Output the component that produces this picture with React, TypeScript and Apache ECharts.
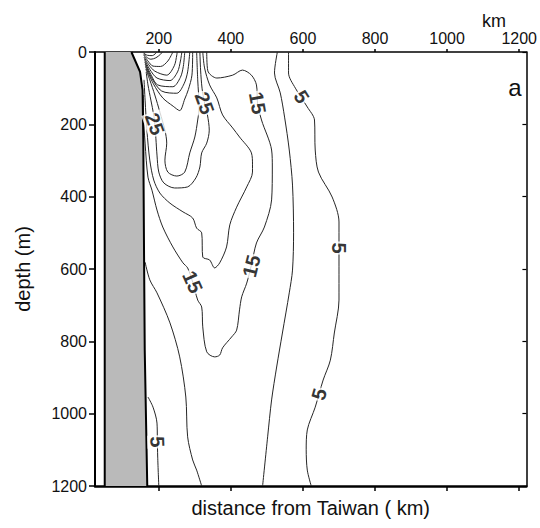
import React, { useEffect, useRef } from "react";
import * as echarts from "echarts";

const FONT = "'Liberation Sans', Arial, Helvetica, sans-serif";

// axes (distance in km, depth in m)
const xMin = 23;
const xMax = 1220;
const xTickValues = [200, 400, 600, 800, 1000, 1200];
const yTickValues = [0, 200, 400, 600, 800, 1000, 1200];

// shaded coastal slope (km, m)
const shelfLeftKm = 50;
const shelfEdge = [[124, 0], [148, 55], [155, 105], [157, 243], [159, 547], [161, 824], [168, 1200]];

// contour lines, [distance km, depth m]
const c5Right = [[560, 0], [560, 58], [579, 100], [612, 152], [632, 188], [634, 271], [643, 332], [681, 401], [700, 470], [700, 594], [700, 686], [687, 777], [676, 852], [656, 907], [634, 982], [612, 1045], [609, 1100], [612, 1156], [623, 1200]];
const c5Left = [[170, 954], [184, 982], [195, 1026], [196, 1070], [197, 1120], [200, 1200]];
const c10Right = [[529, 0], [521, 58], [537, 113], [549, 180], [562, 271], [571, 368], [574, 500], [571, 603], [562, 666], [543, 777], [527, 871], [513, 962], [502, 1064], [488, 1200]];
const c10Left = [[162, 581], [175, 630], [195, 666], [231, 749], [258, 843], [275, 954], [280, 1064], [294, 1128], [305, 1156], [319, 1200]];
const c15 = [[333, 0], [336, 52], [361, 72], [405, 64], [432, 50], [457, 64], [471, 91], [474, 141], [485, 188], [513, 271], [515, 318], [513, 409], [493, 484], [471, 528], [457, 589], [444, 639], [430, 677], [424, 713], [416, 769], [402, 788], [377, 818], [369, 838], [355, 843], [333, 829], [322, 760], [319, 705], [308, 686], [294, 636], [280, 597], [267, 583], [239, 539], [211, 484], [195, 437], [181, 382], [170, 346], [162, 252], [157, 160], [157, 119]];
const c20 = [[159, 77], [162, 133], [167, 216], [175, 299], [186, 354], [203, 390], [231, 418], [267, 442], [294, 459], [305, 487], [319, 500], [322, 567], [341, 575], [355, 597], [369, 583], [388, 539], [397, 478], [416, 429], [444, 373], [460, 332], [460, 312], [457, 279], [424, 235], [405, 210], [377, 174], [361, 127], [341, 91], [327, 44], [322, 0]];
const c25 = [[165, 55], [170, 91], [178, 133], [186, 174], [189, 199], [192, 240], [195, 285], [200, 332], [214, 362], [244, 376], [280, 373], [303, 348], [314, 318], [319, 279], [333, 252], [340, 216], [335, 174], [327, 141], [320, 100], [316, 50], [314, 0]];
const c30 = [[164, 47], [175, 77], [189, 119], [203, 166], [217, 216], [222, 252], [217, 299], [225, 332], [250, 343], [272, 332], [286, 279], [300, 235], [308, 188], [312, 155], [308, 77], [305, 0]];
const c35 = [[163, 40], [185, 88], [211, 127], [240, 150], [258, 162], [272, 130], [282, 104], [292, 64], [294, 0]];
const c40 = [[162, 33], [182, 75], [208, 108], [250, 114], [270, 88], [280, 55], [286, 0]];
const c45 = [[161, 27], [178, 62], [197, 91], [239, 96], [260, 70], [268, 40], [272, 0]];
const c50 = [[160, 20], [175, 48], [195, 72], [231, 79], [252, 55], [260, 25], [264, 0]];
const c55 = [[159, 14], [172, 35], [189, 53], [222, 64], [243, 38], [250, 8], [251, 0]];
const c60 = [[158, 8], [170, 25], [184, 39], [205, 40], [225, 25], [239, 0]];
const c65 = [[158, 5], [166, 14], [178, 20], [192, 16], [205, 6], [210, 0]];
const c70 = [[158, 3], [168, 9], [182, 10], [195, 0]];

const contourLines = [c5Right, c5Left, c10Right, c10Left, c15, c20, c25, c30, c35, c40, c45, c50, c55, c60, c65, c70];

// contour labels: [km, m, text, rotation]
const contourLabels: [number, number, string, number][] = [
  [327, 141, "25", -70],
  [189, 199, "25", -70],
  [474, 141, "15", -80],
  [457, 592, "15", 76],
  [294, 636, "15", -66],
  [596, 124, "5", -58],
  [700, 542, "5", -90],
  [645, 946, "5", 74],
  [196, 1078, "5", -88],
];

const axisBase = {
  type: "value" as const,
  splitLine: { show: false },
};

const plainNumber = (v: number) => String(v);

function buildOption() {
  const lineSeries = contourLines.map((pts) => ({
    type: "line",
    data: pts,
    smooth: 0.3,
    symbol: "none",
    silent: true,
    z: 3,
    lineStyle: { color: "#262626", width: 1 },
  }));

  return {
    animation: false,
    backgroundColor: "#ffffff",
    grid: { left: 95, right: 12, top: 52, bottom: 42, containLabel: false },
    xAxis: [
      {
        ...axisBase,
        min: xMin,
        max: xMax,
        position: "bottom",
        axisLine: { show: true, onZero: false, lineStyle: { color: "#000", width: 2.5 } },
        axisTick: { show: true, customValues: xTickValues, length: 5, inside: false, lineStyle: { color: "#000", width: 1.5 } },
        axisLabel: { show: false },
        name: "distance from Taiwan ( km)",
        nameLocation: "middle",
        nameGap: 12,
        nameTextStyle: { fontFamily: FONT, fontSize: 20, color: "#111", verticalAlign: "top" },
      },
      {
        ...axisBase,
        min: xMin,
        max: xMax,
        position: "top",
        axisLine: { show: true, onZero: false, lineStyle: { color: "#000", width: 1.5 } },
        axisTick: { show: true, customValues: xTickValues, length: 3, inside: false, lineStyle: { color: "#000", width: 1.5 } },
        axisLabel: { show: true, customValues: xTickValues, margin: 6, fontFamily: FONT, fontSize: 16, color: "#111", formatter: plainNumber },
      },
    ],
    yAxis: [
      {
        ...axisBase,
        min: 0,
        max: 1200,
        interval: 200,
        inverse: true,
        position: "left",
        axisLine: { show: true, onZero: false, lineStyle: { color: "#000", width: 2 } },
        axisTick: { show: true, customValues: yTickValues, length: 6, inside: false, lineStyle: { color: "#000", width: 1.5 } },
        axisLabel: { show: true, customValues: yTickValues, margin: 8, fontFamily: FONT, fontSize: 16, color: "#111", formatter: plainNumber },
        name: "depth (m)",
        nameLocation: "middle",
        nameGap: 62,
        nameRotate: 90,
        nameTextStyle: { fontFamily: FONT, fontSize: 20, color: "#111" },
      },
      {
        ...axisBase,
        min: 0,
        max: 1200,
        interval: 200,
        inverse: true,
        position: "right",
        axisLine: { show: true, onZero: false, lineStyle: { color: "#000", width: 1.5 } },
        axisTick: { show: true, length: 4, inside: true, lineStyle: { color: "#000", width: 1.2 } },
        axisLabel: { show: false },
      },
    ],
    graphic: [
      { type: "text", x: 494, y: 21, style: { text: "km", font: `18px ${FONT}`, fill: "#111", align: "center", verticalAlign: "middle" } },
      { type: "text", x: 515, y: 87, style: { text: "a", font: `24px ${FONT}`, fill: "#111", align: "center", verticalAlign: "middle" } },
    ],
    series: [
      ...lineSeries,
      {
        type: "custom",
        silent: true,
        z: 5,
        data: [[shelfLeftKm, 0]],
        renderItem: (_params: any, api: any) => {
          const edge = shelfEdge.map((p) => api.coord(p));
          const lt = api.coord([shelfLeftKm, 0]);
          const lb = api.coord([shelfLeftKm, 1200]);
          return {
            type: "group",
            children: [
              { type: "polygon", shape: { points: [lt, ...edge, lb] }, style: { fill: "#bababa", stroke: null } },
              { type: "polyline", shape: { points: edge }, style: { stroke: "#000", lineWidth: 2, fill: null } },
              { type: "line", shape: { x1: lt[0], y1: lt[1], x2: lb[0], y2: lb[1] }, style: { stroke: "#000", lineWidth: 2 } },
            ],
          };
        },
      },
      {
        type: "scatter",
        silent: true,
        z: 10,
        symbolSize: 0,
        data: contourLabels.map(([x, y, t, r]) => ({ value: [x, y], name: t, label: { rotate: r } })),
        label: {
          show: true,
          position: "inside",
          formatter: (p: any) => p.name,
          fontFamily: FONT,
          fontSize: 20,
          fontWeight: "bold",
          color: "#000",
          backgroundColor: "#ffffff",
          padding: [0, 1],
        },
      },
    ],
  };
}

export default function App() {
  const ref = useRef<HTMLDivElement>(null);
  useEffect(() => {
    if (!ref.current) return;
    const chart = echarts.init(ref.current, null, { renderer: "svg" });
    chart.setOption(buildOption() as any);
    return () => chart.dispose();
  }, []);
  return <div ref={ref} style={{ position: "absolute", left: 0, top: 0, width: 540, height: 528 }} />;
}
